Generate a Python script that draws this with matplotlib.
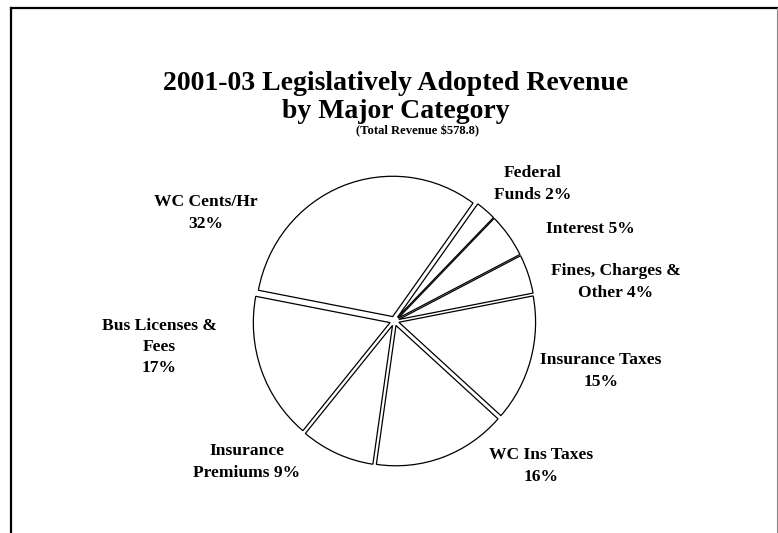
import matplotlib
matplotlib.use('Agg')
import matplotlib.pyplot as plt
from matplotlib.lines import Line2D

plt.rcParams['font.family'] = ['Liberation Serif', 'DejaVu Serif']

W, H = 778, 533

# revenue by category, $ millions (clockwise from Federal Funds)
categories = ['Federal\nFunds', 'Interest', 'Fines, Charges &\nOther', 'Insurance Taxes',
              'WC Ins Taxes', 'Insurance\nPremiums', 'Bus Licenses &\nFees', 'WC Cents/Hr']
revenue = [13.9, 29.5, 26.0, 84.5, 90.9, 50.4, 98.4, 185.2]
pct_sep = [' ', ' ', ' ', '\n', '\n', ' ', '\n', '\n']
total = sum(revenue)

# label centres in pixels (x, y from top)
label_pos = [(533, 184), (590, 229), (616, 282), (601, 371),
             (541, 466), (247, 462), (159, 347), (206, 213)]

fig = plt.figure(figsize=(W / 100, H / 100), dpi=100)

# pie sits in its own axes, slightly taller than wide
cx, cy = 394.4, 321.0
rx, ry = 136.7, 140.3
k = 1.2
ax = fig.add_axes([(cx - k * rx) / W, (H - cy - k * ry) / H, 2 * k * rx / W, 2 * k * ry / H])
ax.pie(revenue, startangle=54, counterclock=False, explode=[0.034] * len(revenue),
       wedgeprops=dict(facecolor='white', edgecolor='black', linewidth=0.9))
ax.set_aspect('auto')
ax.set_xlim(-k, k)
ax.set_ylim(-k, k)
ax.axis('off')

def px(x, y):
    return x / W, 1 - y / H

for name, v, sep, (x, y) in zip(categories, revenue, pct_sep, label_pos):
    txt = '%s%s%d%%' % (name, sep, round(100 * v / total))
    fig.text(*px(x, y), txt, ha='center', va='center', fontsize=12.6,
             fontweight='bold', linespacing=1.42)

fig.text(*px(396, 83), '2001-03 Legislatively Adopted Revenue', ha='center', va='center',
         fontsize=20, fontweight='bold')
fig.text(*px(396, 111), 'by Major Category', ha='center', va='center',
         fontsize=20, fontweight='bold')
fig.text(*px(418, 131), '(Total Revenue $%.1f)' % total, ha='center', va='center',
         fontsize=9.1, fontweight='bold')

# frame
fig.add_artist(Line2D([10.5 / W, 10.5 / W], [0, 1 - 8 / H], color='black', lw=1.6))
fig.add_artist(Line2D([10.5 / W, 1], [1 - 8 / H, 1 - 8 / H], color='black', lw=1.6))
fig.add_artist(Line2D([777.3 / W, 777.3 / W], [0, 1 - 8 / H], color='#888888', lw=0.8))

fig.savefig('out.png', dpi=100, facecolor='white')
